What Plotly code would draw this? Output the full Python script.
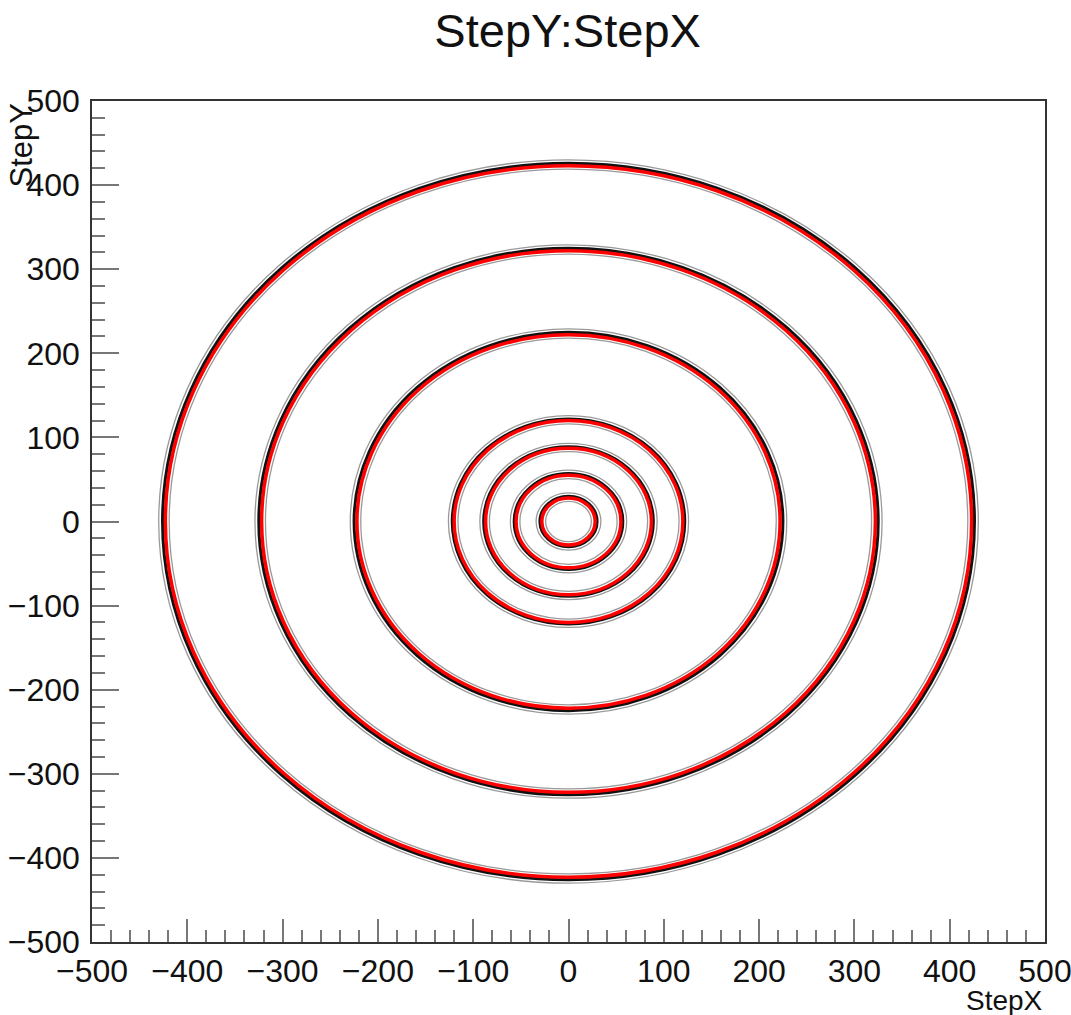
import plotly.graph_objects as go

# Ring radii (StepX/StepY units) for the two overlaid step samples
ring_names = ["r1", "r2", "r3", "r4", "r5", "r6", "r7"]
black_radius = [426, 325, 225, 122, 89, 57, 30]
red_radius = [423, 322, 222, 120, 87, 55, 28]

x_ticks = [-500, -400, -300, -200, -100, 0, 100, 200, 300, 400, 500]
y_ticks = [-500, -400, -300, -200, -100, 0, 100, 200, 300, 400, 500]

FONT = "Liberation Sans, Arial, Helvetica, sans-serif"

fig = go.Figure()
# invisible anchor trace so the axes own the coordinate system
fig.add_trace(go.Scatter(x=[-500, 500], y=[-500, 500], mode="markers",
                         marker=dict(opacity=0), hoverinfo="skip", showlegend=False))

shapes = []
def ring(r, color, width):
    shapes.append(dict(type="circle", xref="x", yref="y", x0=-r, x1=r, y0=-r, y1=r,
                       line=dict(color=color, width=width), layer="above"))

for rb, rr in zip(black_radius, red_radius):
    ring(rb + 4, "rgba(0,0,0,0.4)", 1.3)
    ring(rr - 4, "rgba(0,0,0,0.4)", 1.3)
    ring(rb, "#111", 3)
    ring(rr, "#ff0000", 3.5)

fig.update_layout(
    width=1071, height=1015, autosize=False,
    margin=dict(l=92, r=26, t=101, b=73),
    paper_bgcolor="white", plot_bgcolor="white",
    shapes=shapes,
    title=dict(text="StepY:StepX", x=0.53, xanchor="center", y=1 - 31 / 1015,
               yanchor="middle", yref="container", automargin=False,
               font=dict(family=FONT, size=47, color="#111")),
    font=dict(family=FONT, color="black"),
    showlegend=False,
)

axis_common = dict(range=[-500, 500], showgrid=False, zeroline=False,
                   showline=True, mirror=True, linecolor="#333", linewidth=1.5,
                   ticks="inside", tickcolor="#777", tickwidth=1.5,
                   ticklabeloverflow="allow", automargin=False,
                   tickfont=dict(family=FONT, size=32, color="#111"))

fig.update_xaxes(**axis_common, tickvals=x_ticks, ticklen=23,
                 minor=dict(dtick=20, tick0=0, ticks="inside", ticklen=12,
                            tickcolor="#777", tickwidth=1.5),
                 ticklabelstandoff=0)
fig.update_yaxes(**axis_common, tickvals=y_ticks, ticklen=27,
                 minor=dict(dtick=20, tick0=0, ticks="inside", ticklen=13,
                            tickcolor="#777", tickwidth=1.5),
                 ticklabelstandoff=4)

fig.add_annotation(text="StepX", xref="paper", yref="paper", x=1, y=-0.069,
                   xanchor="right", yanchor="middle", showarrow=False,
                   font=dict(family=FONT, size=28, color="#111"))
fig.add_annotation(text="StepY", xref="paper", yref="paper", x=-0.074, y=1,
                   xanchor="center", yanchor="top", textangle=-90, showarrow=False,
                   font=dict(family=FONT, size=31, color="#111"))

fig.write_html("out.html")
